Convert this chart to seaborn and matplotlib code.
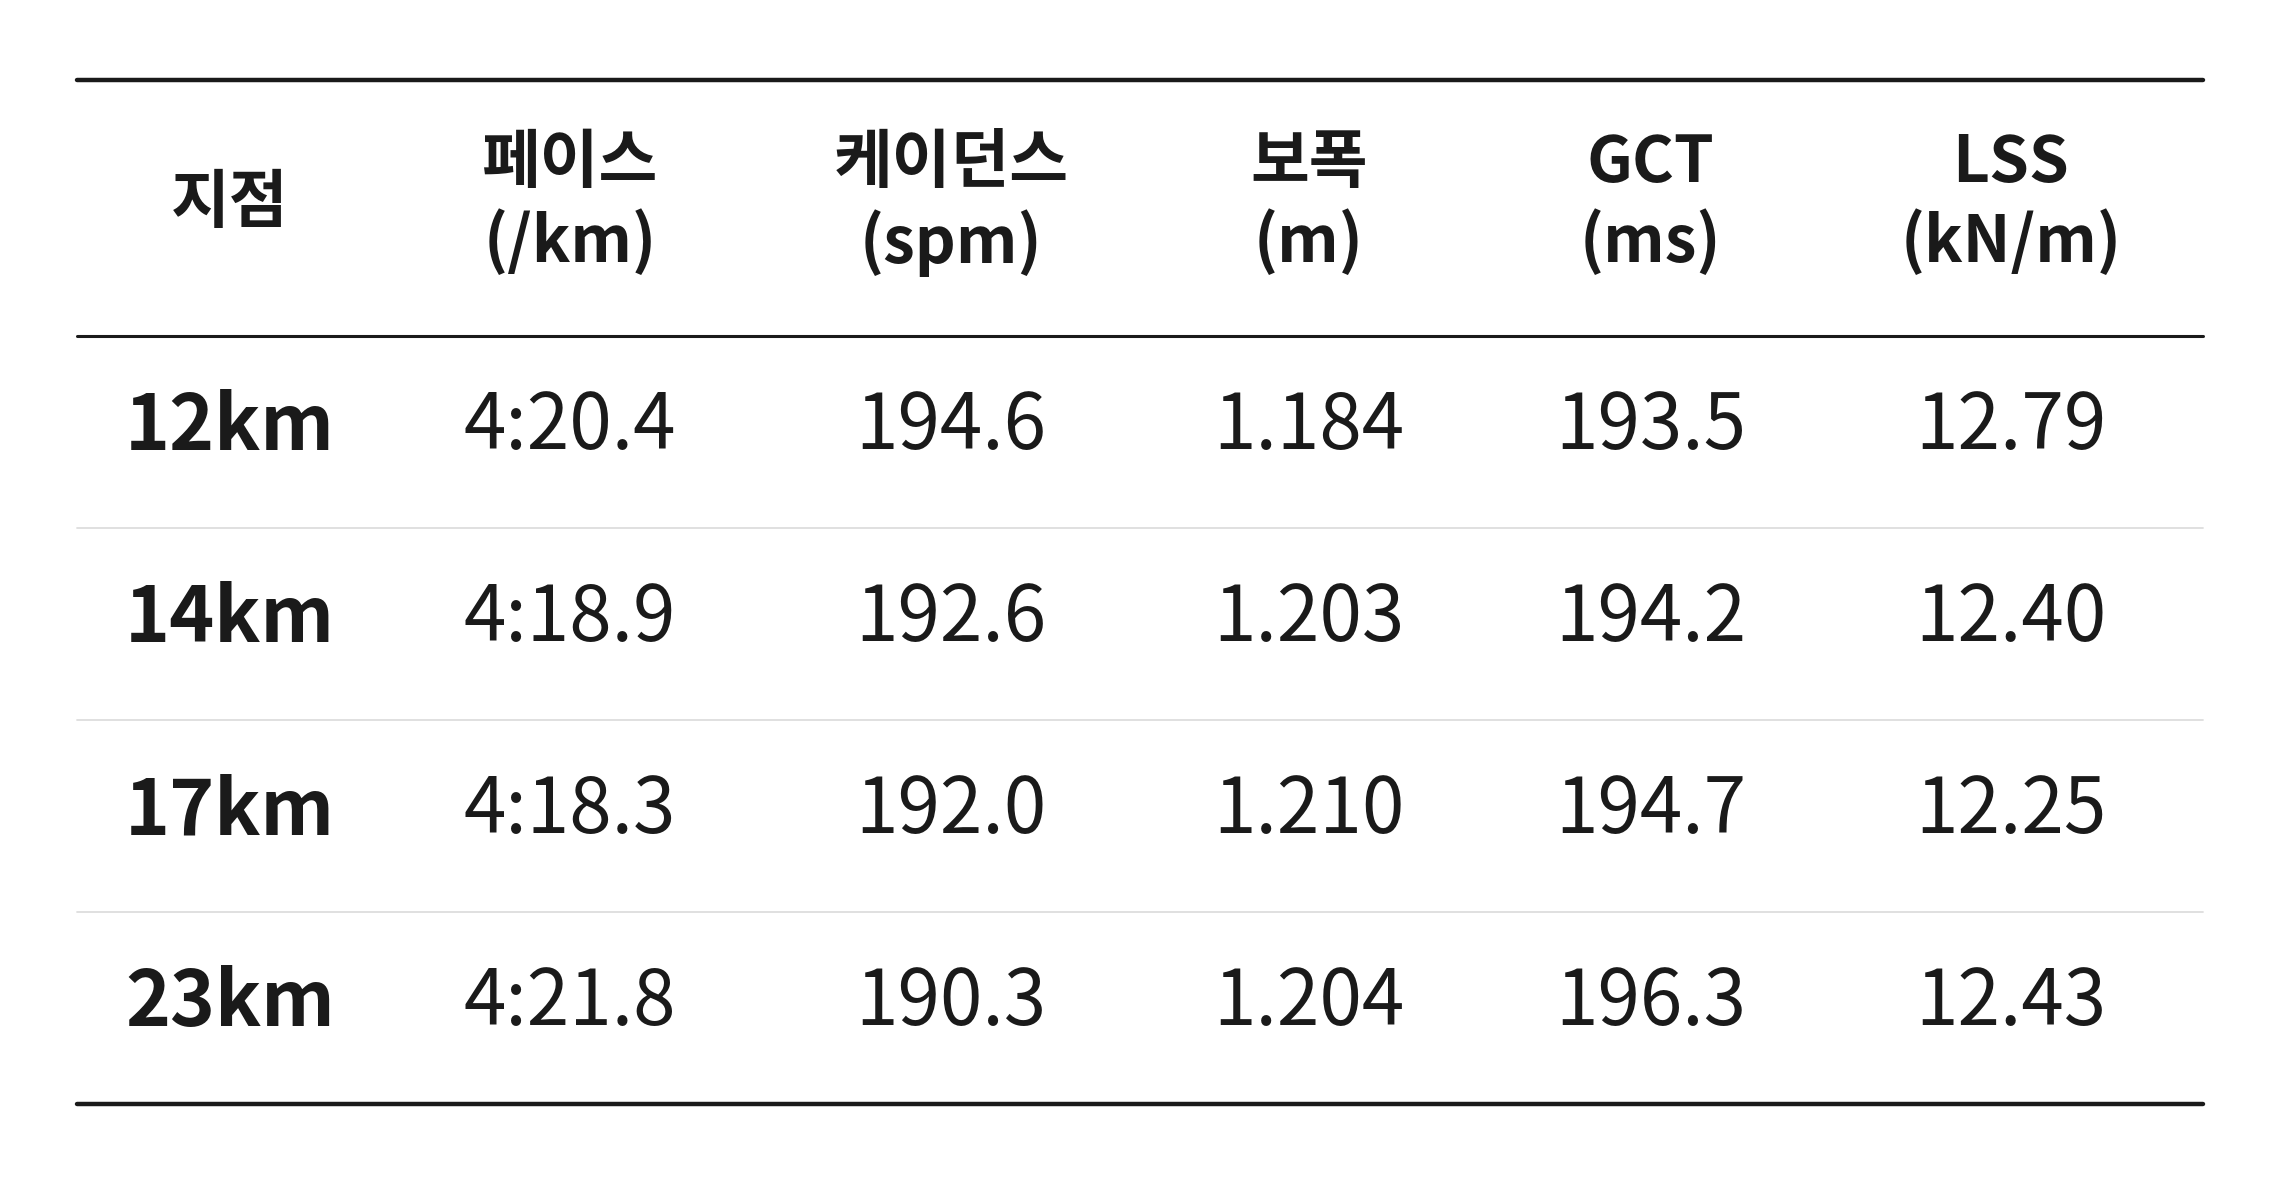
import seaborn as sns
import matplotlib.pyplot as plt
import numpy as np

headers = ['지점', '페이스\n(/km)', '케이던스\n(spm)', '보폭\n(m)', 'GCT\n(ms)', 'LSS\n(kN/m)']
points = ['12km', '14km', '17km', '23km']
pace = ['4:20.4', '4:18.9', '4:18.3', '4:21.8']
cadence = [194.6, 192.6, 192.0, 190.3]
stride = [1.184, 1.203, 1.210, 1.204]
gct = [193.5, 194.2, 194.7, 196.3]
lss = [12.79, 12.40, 12.25, 12.43]

sns.set_theme(style='white')
plt.rcParams['font.family'] = ['Noto Sans CJK KR', 'DejaVu Sans']

fig = plt.figure(figsize=(22.8, 11.84), dpi=100)
ax = fig.add_axes([0, 0, 1, 1])
ax.set_xlim(0, 1568)
ax.set_ylim(814, 0)
ax.axis('off')

col_x = [158, 392, 654, 900, 1135, 1383]
left, right = 53, 1515
dark = '#1a1a1a'

ax.plot([left, right], [55, 55], color=dark, lw=3.2)
ax.plot([left, right], [231, 231], color=dark, lw=2.2)
ax.plot([left, right], [759, 759], color=dark, lw=3.2)
for y in [363, 495, 627]:
    ax.plot([left, right], [y, y], color='#dddddd', lw=1.3)

for x, h in zip(col_x, headers):
    ax.text(x, 140, h, ha='center', va='center', fontsize=46, fontweight='bold',
            color=dark, linespacing=1.25)

rows = zip(points, pace, [f'{v:.1f}' for v in cadence], [f'{v:.3f}' for v in stride],
           [f'{v:.1f}' for v in gct], [f'{v:.2f}' for v in lss])
for i, row in enumerate(rows):
    y = 294 + 132 * i
    for j, (x, t) in enumerate(zip(col_x, row)):
        ax.text(x, y, t, ha='center', va='center', fontsize=55,
                fontweight='bold' if j == 0 else 'normal', color=dark)

fig.savefig('out.png', dpi=100, facecolor='white')
